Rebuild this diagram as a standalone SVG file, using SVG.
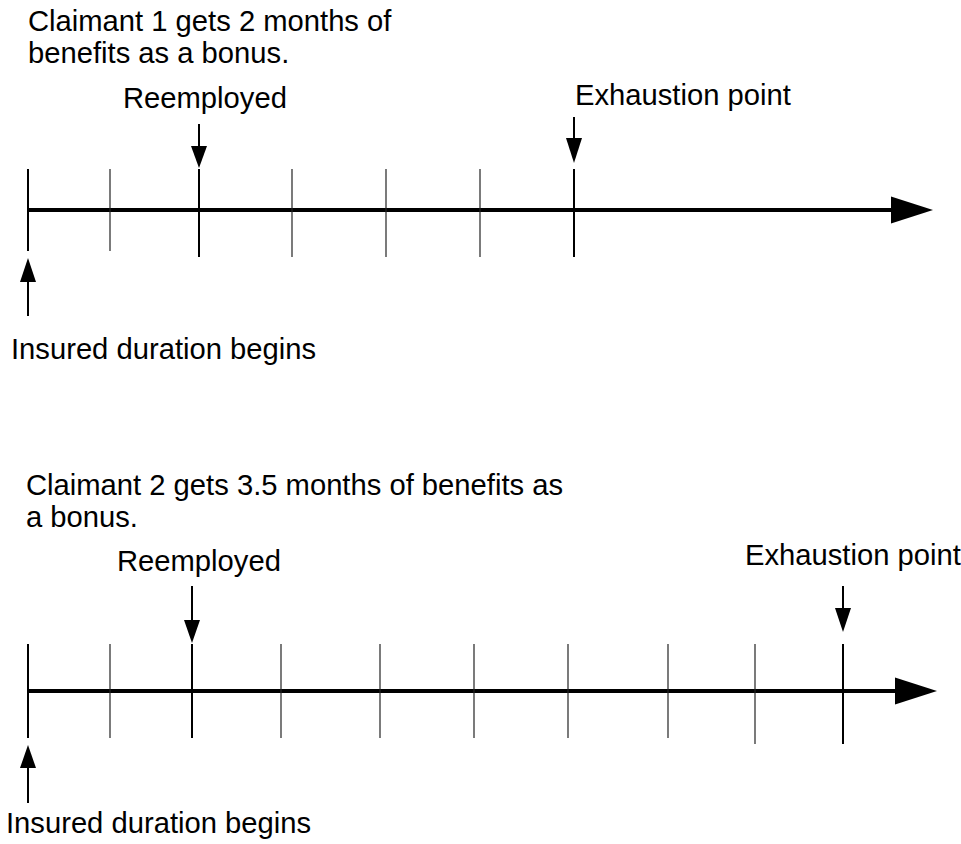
<svg xmlns="http://www.w3.org/2000/svg" width="961" height="844" viewBox="0 0 961 844">
<style>
text{font-family:"Liberation Sans",Arial,sans-serif;font-size:29.2px;fill:#000}
.axis{stroke:#000;stroke-width:4}
.major{stroke:#000;stroke-width:2}
.minor{stroke:#222;stroke-width:1.2}
.ptr{stroke:#000;stroke-width:2}
.head{fill:#000}
</style>
<rect width="961" height="844" fill="#fff"/>
<g id="timeline1">
  <g id="title1"><text x="28" y="31">Claimant 1 gets 2 months of</text><text x="28" y="63">benefits as a bonus.</text></g>
  <g id="axis1"><line class="axis" x1="28" y1="210" x2="893" y2="210"/><polygon class="head" points="891,196.5 933,210 891,223.5"/></g>
  <g id="ticks1">
    <line class="major" x1="28" y1="169" x2="28" y2="251"/>
    <line class="minor" x1="110" y1="169" x2="110" y2="251"/>
    <line class="major" x1="199" y1="169" x2="199" y2="257"/>
    <line class="minor" x1="292" y1="169" x2="292" y2="257"/>
    <line class="minor" x1="386" y1="169" x2="386" y2="257"/>
    <line class="minor" x1="480" y1="169" x2="480" y2="257"/>
    <line class="major" x1="574" y1="169" x2="574" y2="257"/>
  </g>
  <g id="reemployed1"><text x="123" y="108">Reemployed</text><line class="ptr" x1="199" y1="124" x2="199" y2="148"/><polygon class="head" points="191,146 207,146 199,168"/></g>
  <g id="exhaustion1"><text x="575" y="105">Exhaustion point</text><line class="ptr" x1="574" y1="117" x2="574" y2="140"/><polygon class="head" points="566,138 582,138 574,163"/></g>
  <g id="insured1"><line class="ptr" x1="28" y1="280" x2="28" y2="316"/><polygon class="head" points="20,282 36,282 28,258"/><text x="11" y="359">Insured duration begins</text></g>
</g>
<g id="timeline2">
  <g id="title2"><text x="26" y="495">Claimant 2 gets 3.5 months of benefits as</text><text x="26" y="527">a bonus.</text></g>
  <g id="axis2"><line class="axis" x1="28" y1="691" x2="897" y2="691"/><polygon class="head" points="895,677.5 937,691 895,704.5"/></g>
  <g id="ticks2">
    <line class="major" x1="28" y1="644" x2="28" y2="738"/>
    <line class="minor" x1="110" y1="644" x2="110" y2="738"/>
    <line class="major" x1="192" y1="644" x2="192" y2="738"/>
    <line class="minor" x1="281" y1="644" x2="281" y2="738"/>
    <line class="minor" x1="380" y1="644" x2="380" y2="738"/>
    <line class="minor" x1="474" y1="644" x2="474" y2="738"/>
    <line class="minor" x1="568" y1="644" x2="568" y2="738"/>
    <line class="minor" x1="668" y1="644" x2="668" y2="738"/>
    <line class="minor" x1="755" y1="644" x2="755" y2="744"/>
    <line class="major" x1="843" y1="644" x2="843" y2="744"/>
  </g>
  <g id="reemployed2"><text x="117" y="571">Reemployed</text><line class="ptr" x1="192" y1="586" x2="192" y2="622"/><polygon class="head" points="184,620 200,620 192,643"/></g>
  <g id="exhaustion2"><text x="745" y="565">Exhaustion point</text><line class="ptr" x1="843" y1="586" x2="843" y2="610"/><polygon class="head" points="835,608 851,608 843,632"/></g>
  <g id="insured2"><line class="ptr" x1="28" y1="766" x2="28" y2="803"/><polygon class="head" points="20,768 36,768 28,745"/><text x="6" y="833">Insured duration begins</text></g>
</g>
</svg>
